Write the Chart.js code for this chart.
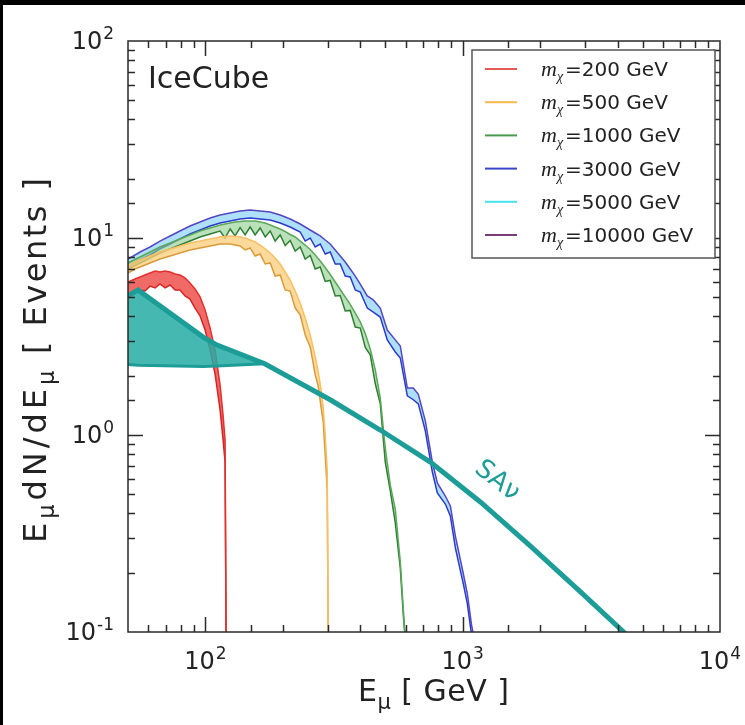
<!DOCTYPE html>
<html>
<head>
<meta charset="utf-8">
<script src="https://cdn.jsdelivr.net/npm/chart.js@4.4.1/dist/chart.umd.min.js"></script>
<style>
  html, body { margin: 0; padding: 0; background: #000; width: 745px; height: 725px; overflow: hidden; }
  #wrap { position: absolute; left: 3px; top: 5px; width: 742px; height: 720px; background: #fff; }
  canvas { display: block; }
</style>
</head>
<body>
<div id="wrap"><canvas id="c" width="742" height="720"></canvas></div>
<script>
// Muon energy E (GeV) and E dN/dE (events): upper / lower edge of each band

// m_chi = 200 GeV
const E_200  = [50, 53.2, 55.7, 58.2, 60.9, 63.7, 66.6, 69.7, 72.9, 76.2, 79.6, 83.3, 87.1, 91.1, 95.3, 99.7, 104.3, 109.0, 114.0, 117.1, 119.2, 120.3];
const HI_200 = [5.98, 6.19, 6.34, 6.49, 6.64, 6.80, 6.72, 6.80, 6.72, 6.57, 6.49, 6.27, 5.91, 5.51, 5.02, 4.31, 3.49, 2.70, 1.79, 1.26, 0.943, 0.091];
const LO_200 = [5.08, 5.32, 5.45, 5.38, 5.70, 5.58, 5.84, 5.58, 5.77, 5.45, 5.45, 5.08, 4.90, 4.41, 4.02, 3.41, 2.70, 2.04, 1.34, 0.943, 0.729, 0.091];

// m_chi = 500 GeV
const E_500  = [50, 53.2, 55.7, 60.9, 66.6, 72.9, 79.6, 87.1, 95.3, 104.3, 114.0, 124.7, 136.4, 142.6, 149.2, 156.0, 163.2, 170.7, 178.5, 186.6, 195.2, 204.1, 213.5, 223.3, 233.5, 244.2, 255.4, 267.1, 274.4, 281.8, 287.0, 292.1, 297.4, 300.0];
const HI_500 = [7.21, 7.55, 7.73, 8.10, 8.49, 8.80, 9.11, 9.43, 9.65, 9.88, 10.12, 10.24, 10.12, 10.0, 9.77, 9.54, 9.21, 8.80, 8.39, 7.91, 7.38, 6.72, 6.12, 5.38, 4.68, 3.93, 3.22, 2.49, 2.09, 1.69, 1.37, 1.00, 0.664, 0.091];
const LO_500 = [6.64, 6.96, 7.13, 7.47, 7.82, 8.10, 8.39, 8.69, 8.90, 9.11, 9.32, 9.32, 9.11, 8.69, 8.90, 8.10, 8.29, 7.38, 7.47, 6.41, 6.49, 5.45, 5.38, 4.41, 4.07, 3.22, 2.80, 2.02, 1.77, 1.37, 1.16, 0.792, 0.526, 0.091];

// m_chi = 1000 GeV
const E_1000  = [50, 55.7, 60.9, 66.6, 72.9, 79.6, 87.1, 95.3, 104.3, 114.0, 119.2, 124.7, 130.4, 136.4, 142.6, 149.2, 156.0, 163.2, 170.7, 178.5, 186.6, 195.2, 204.1, 213.5, 223.3, 233.5, 244.2, 255.4, 267.1, 279.3, 292.1, 305.5, 319.5, 334.1, 349.4, 365.4, 382.2, 399.7, 418.0, 437.1, 457.2, 478.1, 500.0, 522.9, 546.9, 571.9, 587.5, 598.1];
const HI_1000 = [7.47, 8.01, 8.49, 9.00, 9.43, 9.88, 10.36, 10.85, 11.24, 11.64, 11.78, 11.92, 12.06, 12.13, 12.20, 12.20, 12.20, 12.06, 11.92, 11.64, 11.37, 11.11, 10.79, 10.42, 10.12, 9.65, 9.21, 8.74, 8.20, 7.64, 7.08, 6.53, 5.98, 5.48, 5.02, 4.60, 4.16, 3.75, 3.27, 2.73, 2.14, 1.54, 0.859, 0.557, 0.421, 0.227, 0.131, 0.091];
const LO_1000 = [6.96, 7.47, 7.91, 8.39, 8.80, 9.21, 9.65, 10.12, 10.48, 10.85, 10.0, 11.11, 10.24, 11.30, 10.36, 11.37, 10.36, 11.24, 10.12, 10.85, 9.65, 10.36, 9.16, 9.71, 8.59, 9.00, 7.82, 8.15, 6.96, 7.13, 6.02, 6.09, 5.08, 5.11, 4.26, 4.29, 3.53, 3.49, 2.78, 2.55, 1.82, 1.44, 0.729, 0.520, 0.358, 0.211, 0.122, 0.091];

// m_chi = 3000 / 5000 / 10000 GeV (curves lie on top of each other)
const E_HEAVY  = [50, 55.7, 60.9, 66.6, 72.9, 79.6, 87.1, 95.3, 104.3, 114.0, 124.7, 136.4, 149.2, 163.2, 178.5, 195.2, 213.5, 233.5, 244.2, 255.4, 267.1, 279.3, 292.1, 305.5, 319.5, 334.1, 349.4, 365.4, 382.2, 399.7, 425.6, 449.1, 478.1, 509.1, 546.9, 571.9, 609.1, 642.7, 672.1, 715.5, 762.0, 796.8, 856.0, 895.2, 936.3, 1005.8, 1042.5, 1080.5, 1110];
const HI_HEAVY = [7.82, 8.49, 9.00, 9.65, 10.24, 10.85, 11.51, 12.06, 12.63, 13.09, 13.40, 13.71, 13.87, 13.71, 13.55, 13.09, 12.49, 11.78, 11.37, 10.98, 10.60, 10.24, 9.77, 9.32, 8.69, 8.10, 7.55, 6.96, 6.41, 5.84, 5.08, 4.85, 4.41, 3.41, 3.04, 2.83, 1.73, 1.73, 1.61, 1.18, 0.729, 0.571, 0.490, 0.436, 0.307, 0.197, 0.156, 0.110, 0.091];
const LO_HEAVY = [7.13, 7.73, 8.20, 8.80, 9.32, 9.88, 10.48, 10.98, 11.51, 11.92, 12.20, 12.49, 12.63, 12.49, 12.34, 11.92, 11.37, 10.73, 9.65, 10.0, 9.00, 9.32, 8.29, 8.49, 7.38, 7.38, 6.41, 6.34, 5.45, 5.32, 4.41, 4.21, 3.97, 3.04, 2.64, 2.46, 1.58, 1.51, 1.44, 1.05, 0.649, 0.508, 0.446, 0.388, 0.267, 0.175, 0.139, 0.098, 0.091];

// Standard atmospheric neutrino background (SAnu): main curve and low-energy band
const E_SANU    = [50, 54.7, 98, 111, 170, 305.5, 478.1, 748.3, 1171, 1834, 2869, 4220, 4600];
const SANU      = [5.08, 5.45, 3.14, 2.86, 2.30, 1.51, 1.06, 0.729, 0.457, 0.273, 0.160, 0.10, 0.088];
const E_SANU_LO = [50, 54.7, 98, 111, 170];
const SANU_LO   = [2.28, 2.26, 2.23, 2.24, 2.30];

// Axes and legend text
const X_MAJOR = [100, 1000, 10000];
const Y_MAJOR = [0.1, 1, 10, 100];
const MASSES  = ['200', '500', '1000', '3000', '5000', '10000'];
const MASS_COLORS = ['#e45a55', '#f4b94f', '#4d994d', '#3845c6', '#46e2f0', '#7a3c78'];

const FONT = '"DejaVu Sans", "Bitstream Vera Sans", sans-serif';
const INK = '#222';
const TEAL = '#1d9d97';

const pts = (xs, ys) => xs.map((x, i) => ({ x, y: ys[i] }));

function line(data, color, width, extra) {
  return Object.assign({ data, borderColor: color, borderWidth: width, pointRadius: 0, tension: 0, fill: false, clip: 0 }, extra || {});
}

const datasets = [
  line(pts(E_SANU, SANU), TEAL, 5, { order: 0 }),
  line(pts(E_SANU_LO, SANU.slice(0, E_SANU_LO.length)), 'rgba(0,0,0,0)', 0, { order: 1 }),
  line(pts(E_SANU_LO, SANU_LO), TEAL, 3, { order: 1, fill: '-1', backgroundColor: 'rgba(38,172,164,0.85)' }),
  line(pts(E_200, HI_200), '#e3312e', 1.5, { order: 2 }),
  line(pts(E_200, LO_200), '#d62424', 1.5, { order: 2, fill: '-1', backgroundColor: 'rgba(236,70,66,0.8)' }),
  line(pts(E_500, HI_500), '#f7c064', 1.5, { order: 3 }),
  line(pts(E_500, LO_500), '#d99a3a', 1.5, { order: 3, fill: '-1', backgroundColor: 'rgba(250,204,120,0.75)' }),
  line(pts(E_1000, HI_1000), '#5aa85a', 1.5, { order: 4 }),
  line(pts(E_1000, LO_1000), '#2f7f34', 1.5, { order: 4, fill: '-1', backgroundColor: 'rgba(140,205,140,0.6)' }),
  line(pts(E_HEAVY, HI_HEAVY), '#5546c2', 1.5, { order: 5 }),
  line(pts(E_HEAVY, LO_HEAVY), '#2a3bcc', 1.5, { order: 5, fill: '-1', backgroundColor: 'rgba(120,205,245,0.6)' })
];

const isMajor = v => Math.abs(Math.log10(v) - Math.round(Math.log10(v))) < 1e-6;

// "10" with a raised exponent
function drawPow10(ctx, v, x, baseline, align) {
  const exp = String(Math.round(Math.log10(v)));
  ctx.font = '24px ' + FONT;
  const wb = ctx.measureText('10').width;
  ctx.font = '17px ' + FONT;
  const ws = ctx.measureText(exp).width;
  const w = wb + 1 + ws;
  const left = align === 'right' ? x - w : x - w / 2;
  ctx.font = '24px ' + FONT;
  ctx.fillText('10', left, baseline);
  ctx.font = '17px ' + FONT;
  ctx.fillText(exp, left + wb + 1, baseline - 10);
}

// text made of normal and subscript runs, each run with its own letter spacing
function setRun(ctx, p, size) {
  ctx.font = (p.sub ? size * 0.7 : size) + 'px ' + FONT;
  ctx.letterSpacing = (p.ls || 0) + 'px';
}
function drawRich(ctx, parts, x, y, size) {
  let cx = x;
  for (const p of parts) {
    setRun(ctx, p, size);
    ctx.fillText(p.t, cx, y + (p.sub ? size * 0.25 : 0));
    cx += ctx.measureText(p.t).width;
  }
  ctx.letterSpacing = '0px';
}

const frame = {
  id: 'frame',
  afterDatasetsDraw(chart) {
    const { ctx, chartArea: a, scales } = chart;
    const xs = scales.x, ys = scales.y;
    ctx.save();
    ctx.strokeStyle = '#2a2a2a';
    ctx.lineWidth = 1.5;
    ctx.beginPath();
    xs.ticks.forEach(t => {
      const px = Math.round(xs.getPixelForValue(t.value)) + 0.5;
      if (px <= a.left + 1 || px >= a.right - 1) return;
      const len = isMajor(t.value) ? 15 : 7;
      ctx.moveTo(px, a.bottom); ctx.lineTo(px, a.bottom - len);
      ctx.moveTo(px, a.top); ctx.lineTo(px, a.top + len);
    });
    ys.ticks.forEach(t => {
      const py = Math.round(ys.getPixelForValue(t.value)) + 0.5;
      if (py <= a.top + 1 || py >= a.bottom - 1) return;
      const len = isMajor(t.value) ? 15 : 7;
      ctx.moveTo(a.left, py); ctx.lineTo(a.left + len, py);
      ctx.moveTo(a.right, py); ctx.lineTo(a.right - len, py);
    });
    ctx.stroke();
    ctx.strokeRect(a.left, a.top, a.right - a.left, a.bottom - a.top);

    // tick labels
    ctx.fillStyle = INK;
    ctx.textAlign = 'left';
    ctx.textBaseline = 'alphabetic';
    X_MAJOR.forEach(v => drawPow10(ctx, v, xs.getPixelForValue(v), a.bottom + 37, 'center'));
    Y_MAJOR.forEach(v => drawPow10(ctx, v, a.left - 14, ys.getPixelForValue(v) + 8, 'right'));

    // axis titles
    const xt = [{ t: 'E', ls: 0.5 }, { t: '\u03bc', sub: true, ls: 0.5 }, { t: ' [ GeV ]', ls: 0.5 }];
    drawRich(ctx, xt, 355, 696, 30);

    const yt = [{ t: 'E', ls: 4 }, { t: '\u03bc', sub: true, ls: 4 }, { t: 'dN/dE', ls: 4 }, { t: '\u03bc', sub: true, ls: 4 },
                { t: ' [ Events ]', ls: 2.5 }];
    ctx.save();
    ctx.translate(43, 538);
    ctx.rotate(-Math.PI / 2);
    drawRich(ctx, yt, 0, 0, 32);
    ctx.restore();

    // experiment tag
    ctx.font = '30px ' + FONT;
    ctx.fillText('IceCube', 145, 83);

    // background curve label
    ctx.save();
    ctx.fillStyle = TEAL;
    ctx.font = '26px ' + FONT;
    ctx.translate(494, 476);
    ctx.rotate(38 * Math.PI / 180);
    ctx.textAlign = 'center';
    ctx.textBaseline = 'middle';
    ctx.fillText('SA\u03bd', 0, 0);
    ctx.restore();

    // legend box
    const lx = 469, ly = 45, lw = 243, lh = 208;
    ctx.fillStyle = '#fff';
    ctx.fillRect(lx, ly, lw, lh);
    ctx.strokeStyle = '#555';
    ctx.lineWidth = 1.5;
    ctx.strokeRect(lx, ly, lw, lh);
    MASSES.forEach((m, i) => {
      const cy = 64 + i * 33.2;
      ctx.strokeStyle = MASS_COLORS[i];
      ctx.lineWidth = 2;
      ctx.beginPath(); ctx.moveTo(482, cy); ctx.lineTo(514, cy); ctx.stroke();
      ctx.fillStyle = INK;
      ctx.textAlign = 'left';
      ctx.textBaseline = 'alphabetic';
      const base = cy + 7;
      ctx.font = 'italic 22px "Liberation Serif", "DejaVu Serif", serif';
      ctx.fillText('m', 538, base);
      const wm = ctx.measureText('m').width;
      ctx.font = 'italic 14px "Liberation Serif", "DejaVu Serif", serif';
      ctx.fillText('\u03c7', 538 + wm, base + 5);
      const wc = ctx.measureText('\u03c7').width;
      ctx.font = '20px ' + FONT;
      ctx.fillText('=' + m + ' GeV', 538 + wm + wc + 2, base);
    });
    ctx.restore();
  }
};

new Chart(document.getElementById('c'), {
  type: 'line',
  data: { datasets },
  options: {
    responsive: false,
    animation: false,
    devicePixelRatio: 1,
    layout: { padding: { left: 0, top: 36, right: 25, bottom: 0 } },
    plugins: { legend: { display: false }, tooltip: { enabled: false } },
    scales: {
      x: {
        type: 'logarithmic', min: 50, max: 10000,
        grid: { display: false }, border: { display: false },
        ticks: { display: false },
        afterFit: s => { s.height = 93; }
      },
      y: {
        type: 'logarithmic', min: 0.1, max: 100,
        grid: { display: false }, border: { display: false },
        ticks: { display: false },
        afterFit: s => { s.width = 125; }
      }
    }
  },
  plugins: [frame]
});
</script>
</body>
</html>
